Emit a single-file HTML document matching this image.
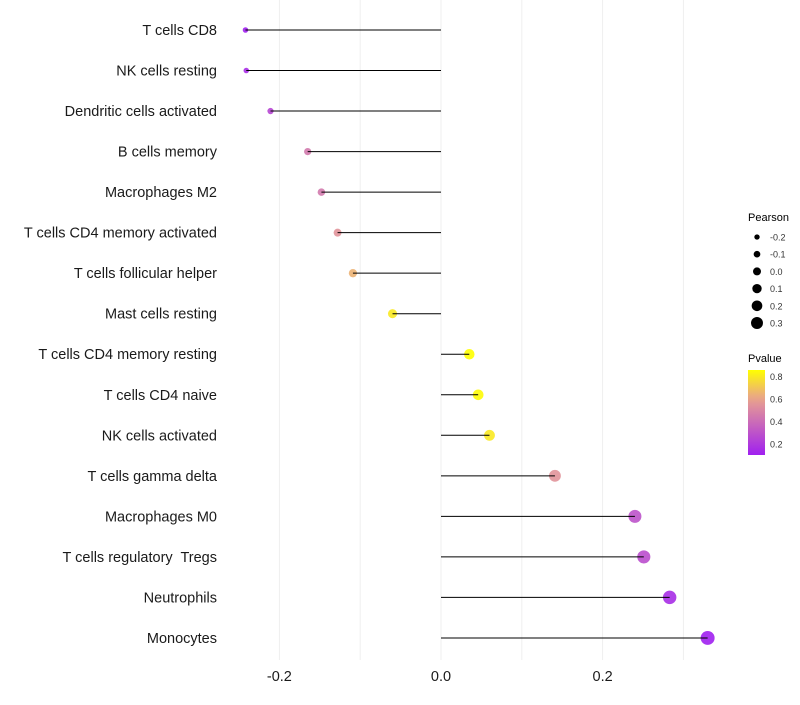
<!DOCTYPE html>
<html><head><meta charset="utf-8"><style>
body{margin:0;background:#fff;font-family:"Liberation Sans",sans-serif}
text{white-space:pre}
</style></head><body>
<svg id="chart" width="800" height="700" xmlns="http://www.w3.org/2000/svg"></svg>
<script>
const categories=["T cells CD8","NK cells resting","Dendritic cells activated","B cells memory","Macrophages M2","T cells CD4 memory activated","T cells follicular helper","Mast cells resting","T cells CD4 memory resting","T cells CD4 naive","NK cells activated","T cells gamma delta","Macrophages M0","T cells regulatory  Tregs","Neutrophils","Monocytes"];
const pearson=[-0.242,-0.241,-0.211,-0.165,-0.148,-0.128,-0.109,-0.060,0.035,0.046,0.060,0.141,0.240,0.251,0.283,0.330];
const pvalue=[0.1,0.15,0.25,0.45,0.45,0.55,0.65,0.8,0.88,0.85,0.8,0.55,0.3,0.28,0.15,0.1];
const xTicks=[-0.2,0.0,0.2];
const xTickLabels=["-0.2","0.0","0.2"];
const gridVals=[-0.2,-0.1,0,0.1,0.2,0.3];
const sizeLegend=[-0.2,-0.1,0.0,0.1,0.2,0.3];
const sizeLegendLabels=["-0.2","-0.1","0.0","0.1","0.2","0.3"];
const pLegend=[0.2,0.4,0.6,0.8];

const svg=document.getElementById('chart');const NS='http://www.w3.org/2000/svg';
function x(v){return 441+v*808;}
function y(i){return 30+i*40.53;}
function r(v){return Math.sqrt(Math.max(3,25+72*v));}
function lerp(a,b,t){return a.map((c,i)=>Math.round(c+(b[i]-c)*t));}
function col(p){const lo=0.1,mid=0.6,hi=0.86;const P=[160,32,240],M=[232,160,144],Y=[255,255,0];
 let c;if(p<=mid)c=lerp(P,M,Math.max(0,(p-lo)/(mid-lo)));else c=lerp(M,Y,Math.min(1,(p-mid)/(hi-mid)));return `rgb(${c})`;}
function el(t,a,txt){const e=document.createElementNS(NS,t);for(const k in a)e.setAttribute(k,a[k]);if(txt!=null)e.textContent=txt;svg.appendChild(e);return e;}
gridVals.forEach(g=>{const e=el('line',{x1:x(g),x2:x(g),y1:0,y2:660,stroke:'#efefef','stroke-width':1});

});
categories.forEach((c,i)=>{
 const t=el('text',{x:217,y:y(i)+5,'text-anchor':'end','font-size':14.5,fill:'#1a1a1a'},c);
 
 
 const d=el('circle',{cx:x(pearson[i]),cy:y(i),r:r(pearson[i]),fill:col(pvalue[i]),opacity:0.9});
 
 
 const l=el('line',{x1:x(0),x2:x(pearson[i]),y1:y(i),y2:y(i),stroke:'#000','stroke-width':1});
 
 
});
xTicks.forEach((v,i)=>{const t=el('text',{x:x(v),y:681,'text-anchor':'middle','font-size':14.5,fill:'#1a1a1a'},xTickLabels[i]);

});
let t=el('text',{x:748,y:221,'font-size':11,fill:'#000'},'Pearson');


function lr(v){return 4+6.6*v;}
sizeLegend.forEach((v,i)=>{const cy=237+i*17.2;
 const c=el('circle',{cx:757,cy:cy,r:lr(v),fill:'#000'});
 
 
 const tt=el('text',{x:770,y:cy+3.5,'font-size':9,fill:'#333'},sizeLegendLabels[i]);
 
 });
t=el('text',{x:748,y:362,'font-size':11,fill:'#000'},'Pvalue');


const defs=el('defs',{});const g=document.createElementNS(NS,'linearGradient');g.setAttribute('id','pg');g.setAttribute('x1',0);g.setAttribute('x2',0);g.setAttribute('y1',1);g.setAttribute('y2',0);defs.appendChild(g);
for(let k=0;k<=10;k++){const p=0.1+k*0.076;const s=document.createElementNS(NS,'stop');s.setAttribute('offset',k/10);s.setAttribute('stop-color',col(p));g.appendChild(s);}
const bar=el('rect',{x:748,y:370,width:17,height:85,fill:'url(#pg)'});


function py(p){return 455-(p-0.1)/(0.86-0.1)*85;}
pLegend.forEach(p=>{const tt=el('text',{x:770,y:py(p)+3.5,'font-size':9,fill:'#333'},p.toFixed(1));

});
</script>
</body></html>
